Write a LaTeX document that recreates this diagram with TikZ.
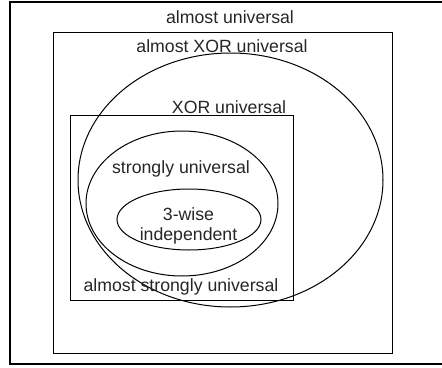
\documentclass[tikz,border=0pt]{standalone}
\usepackage{fontspec}
\setmainfont{Liberation Sans}
\usepackage{tikz}
\usetikzlibrary{shapes.geometric}
\tikzset{
  setbox/.style={
    draw=black, line width=1pt, rectangle, inner sep=0pt, outer sep=0pt
  },
  setoval/.style={
    draw=black, line width=1pt, ellipse, inner sep=0pt, outer sep=0pt
  },
  lbl/.style={
    font=\fontsize{17.7}{20.5}\selectfont, text=black!85, align=center,
    inner sep=0pt, anchor=base
  }
}

\begin{document}
\begin{tikzpicture}[x=1pt, y=-1pt]
  \clip (0,0) rectangle (442,367);
  \useasboundingbox (0,0) rectangle (442,367);
  % sets
  \node[setbox, line width=1.4pt, minimum width=440pt, minimum height=362pt] (au) at (230,183) {};
  \node[setbox, minimum width=339pt, minimum height=321pt] (axu) at (222.5,192.5) {};
  \node[setbox, minimum width=223pt, minimum height=185pt] (xu) at (181.5,207.5) {};
  \node[setoval, minimum width=305pt, minimum height=254pt] (axuo) at (230.5,180) {};
  \node[setoval, minimum width=192pt, minimum height=145pt] (su) at (182,203.5) {};
  \node[setoval, minimum width=144pt, minimum height=61pt] (tw) at (189,219.5) {};
  % labels
  \node[lbl] (auL) at (230,23) {almost universal};
  \node[lbl] (axuL) at (222,52) {almost XOR universal};
  \node[lbl] (xuL) at (229,113) {XOR universal};
  \node[lbl] (suL) at (181,173) {strongly universal};
  \node[lbl] (twL) at (188.5,240.5) {3-wise\\independent};
  \node[lbl] (asuL) at (181,291.5) {almost strongly universal};
\end{tikzpicture}
\end{document}
